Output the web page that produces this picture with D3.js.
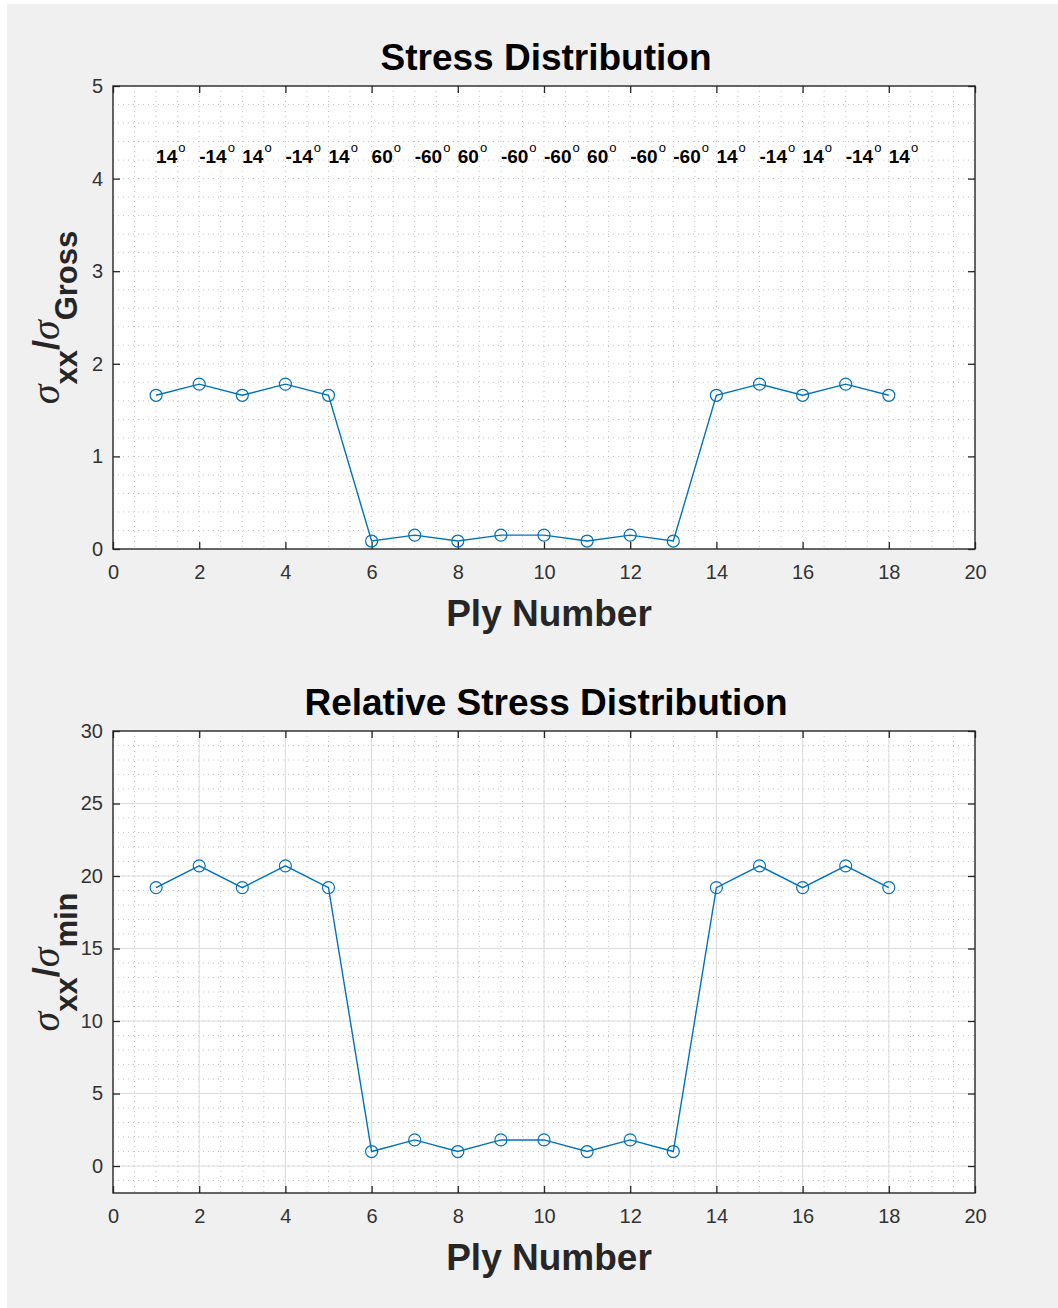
<!DOCTYPE html>
<html>
<head>
<meta charset="utf-8">
<script src="https://cdn.jsdelivr.net/npm/d3@7/dist/d3.min.js"></script>
<style>
  body { margin: 0; background: #ffffff; }
  svg { display: block; }
</style>
</head>
<body>
<svg id="fig" width="1058" height="1308"></svg>
<script>
// ply numbers and values
var plies = [1, 2, 3, 4, 5, 6, 7, 8, 9, 10, 11, 12, 13, 14, 15, 16, 17, 18];
var stressRatio = [1.66, 1.78, 1.66, 1.78, 1.66, 0.086, 0.15, 0.086, 0.15, 0.15, 0.086, 0.15, 0.086, 1.66, 1.78, 1.66, 1.78, 1.66];
var relativeRatio = [19.2, 20.7, 19.2, 20.7, 19.2, 1.0, 1.8, 1.0, 1.8, 1.8, 1.0, 1.8, 1.0, 19.2, 20.7, 19.2, 20.7, 19.2];
var plyAngles = ["14", "-14", "14", "-14", "14", "60", "-60", "60", "-60", "-60", "60", "-60", "-60", "14", "-14", "14", "-14", "14"];
var angleLabelY = 4.2;
var xTicks = [0, 2, 4, 6, 8, 10, 12, 14, 16, 18, 20];
var yTicksTop = [0, 1, 2, 3, 4, 5];
var yTicksBottom = [0, 5, 10, 15, 20, 25, 30];

var svg = d3.select("#fig");
svg.append("rect").attr("x", 7).attr("y", 4).attr("width", 1051).attr("height", 1304).attr("fill", "#f0f0f0");

var axColor = "#262626";
var lineColor = "#0072bd";
var font = "'Liberation Sans', Arial, Helvetica, sans-serif";

function drawPanel(opt) {
    var left = 113, right = 975, top = opt.top, bottom = opt.bottom;
    var x = d3.scaleLinear().domain([0, 20]).range([left, right]);
    var y = d3.scaleLinear().domain(opt.yDomain).range([bottom, top]);
    var g = svg.append("g");

    g.append("rect").attr("x", left).attr("y", top).attr("width", right - left).attr("height", bottom - top).attr("fill", "#ffffff");

    // minor grid (dotted)
    var xMinor = d3.range(0.5, 20, 0.5);
    var yMinor = d3.range(Math.ceil(opt.yDomain[0] / opt.yMinorStep) * opt.yMinorStep, opt.yDomain[1], opt.yMinorStep)
        .filter(function(v) { return v > opt.yDomain[0] + 1e-6 && v < opt.yDomain[1] - 1e-6; });
    g.selectAll(".xminor").data(xMinor).enter().append("line")
        .attr("x1", function(d) { return x(d); }).attr("x2", function(d) { return x(d); })
        .attr("y1", top).attr("y2", bottom)
        .attr("stroke", "#c4c4c4").attr("stroke-width", 1).attr("stroke-dasharray", "1,4");
    g.selectAll(".yminor").data(yMinor).enter().append("line")
        .attr("x1", left).attr("x2", right)
        .attr("y1", function(d) { return y(d); }).attr("y2", function(d) { return y(d); })
        .attr("stroke", "#c4c4c4").attr("stroke-width", 1).attr("stroke-dasharray", "1,4");

    if (opt.majorGrid) {
        g.selectAll(".xmajor").data(xTicks.slice(1, -1)).enter().append("line")
            .attr("x1", function(d) { return x(d); }).attr("x2", function(d) { return x(d); })
            .attr("y1", top).attr("y2", bottom)
            .attr("stroke", "#dcdcdc").attr("stroke-width", 1);
        g.selectAll(".ymajor").data(opt.yTicks.filter(function(v) { return y(v) > top + 1; })).enter().append("line")
            .attr("x1", left).attr("x2", right)
            .attr("y1", function(d) { return y(d); }).attr("y2", function(d) { return y(d); })
            .attr("stroke", "#dcdcdc").attr("stroke-width", 1);
    }

    // axes with inward ticks on all four sides
    var xa = g.append("g").attr("transform", "translate(0," + bottom + ")")
        .call(d3.axisBottom(x).tickValues(xTicks).tickSizeInner(-7).tickSizeOuter(0).tickPadding(20));
    g.append("g").attr("transform", "translate(" + left + ",0)")
        .call(d3.axisLeft(y).tickValues(opt.yTicks).tickFormat(d3.format("d")).tickSizeInner(-7).tickSizeOuter(0).tickPadding(10));
    g.append("g").attr("transform", "translate(0," + top + ")")
        .call(d3.axisTop(x).tickValues(xTicks).tickSizeInner(-7).tickSizeOuter(0).tickFormat(""));
    g.append("g").attr("transform", "translate(" + right + ",0)")
        .call(d3.axisRight(y).tickValues(opt.yTicks).tickSizeInner(-7).tickSizeOuter(0).tickFormat(""));
    g.selectAll(".domain").remove();
    g.selectAll(".tick line").attr("stroke", axColor).attr("stroke-width", 1.3);
    g.selectAll(".tick text").attr("fill", "#333").style("font-family", font).style("font-size", "20px");
    xa.selectAll(".tick text").attr("dy", "0.5em");

    g.append("rect").attr("x", left).attr("y", top).attr("width", right - left).attr("height", bottom - top)
        .attr("fill", "none").attr("stroke", axColor).attr("stroke-width", 1.4);

    // data
    var pts = plies.map(function(p, i) { return [p, opt.values[i]]; });
    g.append("path").datum(pts)
        .attr("d", d3.line().x(function(d) { return x(d[0]); }).y(function(d) { return y(d[1]); }))
        .attr("fill", "none").attr("stroke", lineColor).attr("stroke-width", 1.4);
    g.selectAll(".marker").data(pts).enter().append("circle")
        .attr("cx", function(d) { return x(d[0]); }).attr("cy", function(d) { return y(d[1]); })
        .attr("r", 6).attr("fill", "none").attr("stroke", lineColor).attr("stroke-width", 1.2);

    // titles
    g.append("text").attr("x", 546).attr("y", opt.titleY)
        .attr("text-anchor", "middle").attr("fill", "#000").style("font-family", font)
        .style("font-size", "37px").style("font-weight", "bold").text(opt.title);
    g.append("text").attr("x", 549).attr("y", bottom + 77)
        .attr("text-anchor", "middle").attr("fill", "#262626").style("font-family", font)
        .style("font-size", "37px").style("font-weight", "bold").text("Ply Number");

    var yl = g.append("text").attr("transform", "translate(59," + ((top + bottom) / 2) + ") rotate(-90)")
        .attr("text-anchor", "middle").attr("fill", "#262626").style("font-family", font).style("font-size", "36px");
    yl.append("tspan").style("font-family", "'Liberation Serif', serif").style("font-style", "italic").style("font-size", "40px").text("σ");
    yl.append("tspan").attr("dy", 18).style("font-weight", "bold").style("font-size", "31px").text("xx");
    yl.append("tspan").attr("dy", -18).style("font-weight", "bold").text("/");
    yl.append("tspan").style("font-family", "'Liberation Serif', serif").style("font-style", "italic").style("font-size", "40px").text("σ");
    yl.append("tspan").attr("dy", 18).style("font-weight", "bold").style("font-size", "31px").text(opt.sub);

    return { g: g, x: x, y: y };
}

var topPanel = drawPanel({
    top: 86, bottom: 549, yDomain: [0, 5], yTicks: yTicksTop, yMinorStep: 0.2,
    values: stressRatio, title: "Stress Distribution", titleY: 70, sub: "Gross", majorGrid: false
});

drawPanel({
    top: 731, bottom: 1193, yDomain: [-1.86, 30], yTicks: yTicksBottom, yMinorStep: 1,
    values: relativeRatio, title: "Relative Stress Distribution", titleY: 715, sub: "min", majorGrid: true
});

// ply angle annotations
var ann = topPanel.g.selectAll(".angle").data(plyAngles).enter().append("text")
    .attr("x", function(d, i) { return topPanel.x(plies[i]); })
    .attr("y", topPanel.y(angleLabelY) + 3)
    .attr("fill", "#000").style("font-family", font).style("font-size", "19px").style("font-weight", "bold");
ann.append("tspan").text(function(d) { return d; });
ann.append("tspan").attr("dy", -11).attr("dx", 1).style("font-size", "13px").style("font-weight", "normal").text("o");
</script>
</body>
</html>
